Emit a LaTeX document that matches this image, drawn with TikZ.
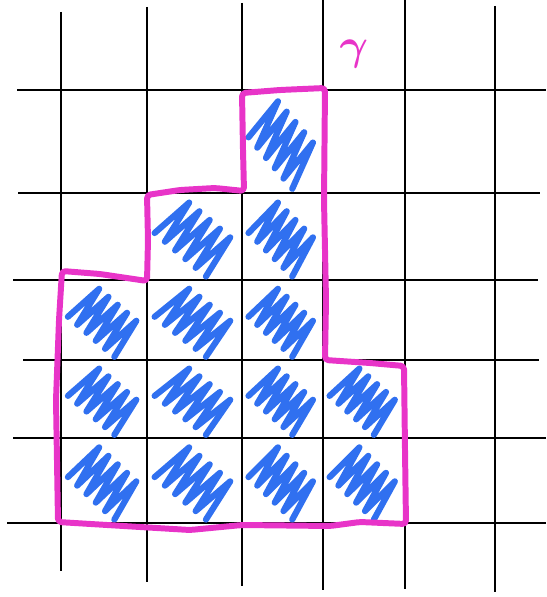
\documentclass[tikz,border=0pt]{standalone}
\usepackage{amsmath}
\usepackage{bm}
\usepackage{tikz}
\usetikzlibrary{positioning}

\definecolor{penpink}{RGB}{232,52,200}
\definecolor{penblue}{RGB}{48,112,240}

\tikzset{
  gridline/.style={line width=1.4pt, black},
  scrib/.style={line width=3.5pt, penblue, line join=round, line cap=round},
  outline/.style={line width=3.4pt, penpink, line join=round, rounded corners=2pt}
}

\begin{document}
\begin{tikzpicture}[x=0.2mm, y=-0.2mm]
    \useasboundingbox (0,0) rectangle (546,597);
    % grid
    \foreach \y/\xl/\xr in {90/17/546,193/18/540,280/13/538,360/23/539,438/13/546,523/7/546}
      \draw[gridline] (\xl,\y) -- (\xr,\y);
    \foreach \x/\yt/\yb in {61/12/571,147/7/582,242/3/586,323/0/590,405/0/589,495/6/592}
      \draw[gridline] (\x,\yt) -- (\x,\yb);
    % filled cells
    \foreach \xa/\xb/\ya/\yb in {242/323/90/193,
        147/242/193/280,242/323/193/280,
        61/147/280/360,147/242/280/360,242/323/280/360,
        61/147/360/438,147/242/360/438,242/323/360/438,323/405/360/438,
        61/147/438/523,147/242/438/523,242/323/438/523,323/405/438/523}
      \draw[scrib] plot[domain=0:10, samples=11]
        ({\xa+(\xb-\xa)*(0.08+0.054*\x+0.31*mod(\x,2))},
         {\ya+(\yb-\ya)*(0.46+0.05*\x-0.4*mod(\x,2))});
    % boundary
    \draw[outline] (58,522) -- (56,400) -- (59,320) -- (62,271) -- (100,274)
      -- (147,281) -- (148,240) -- (147,195) -- (180,190) -- (215,188)
      -- (244,191) -- (243,150) -- (242,93) -- (280,90) -- (325,88)
      -- (324,200) -- (326,300) -- (325,360) -- (370,363) -- (404,366)
      -- (405,450) -- (406,524) -- (360,522) -- (330,526) -- (242,525)
      -- (190,530) -- (140,527) -- cycle;
    \node[text=penpink, font=\fontsize{30}{30}\selectfont] (gamma) at (354,54) {$\bm{\gamma}$};
  \end{tikzpicture}
\end{document}
